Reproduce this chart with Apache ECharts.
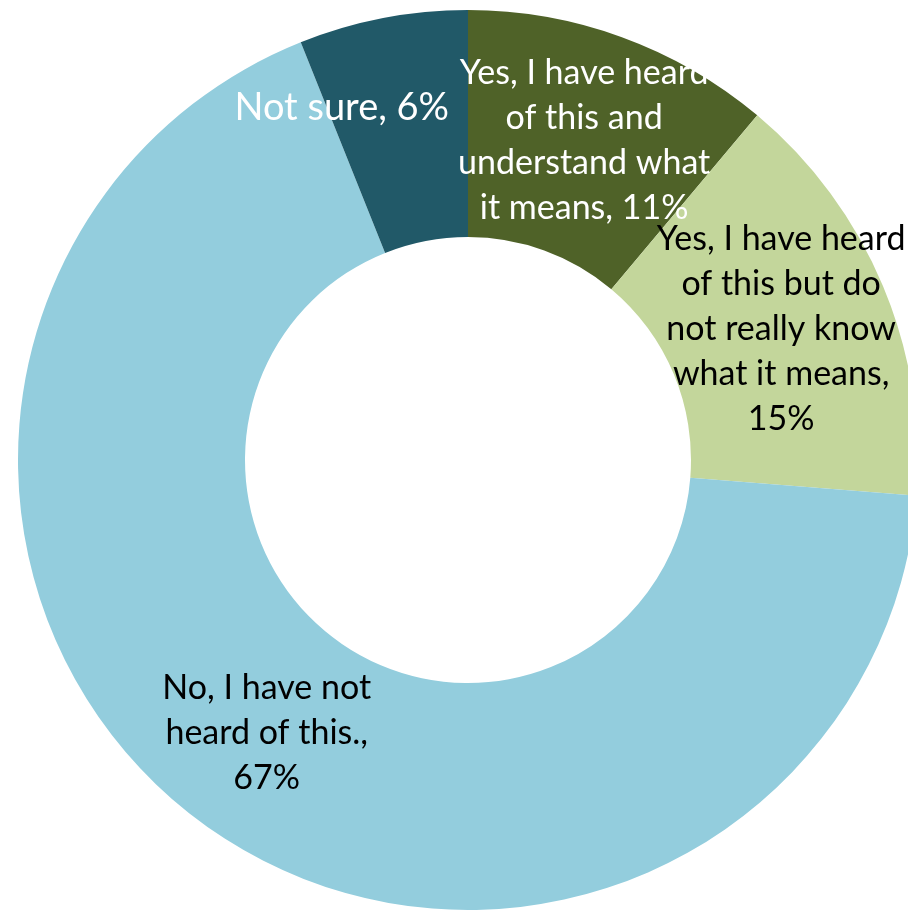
<!DOCTYPE html>
<html>
<head>
<meta charset="utf-8">
<script src="https://cdn.jsdelivr.net/npm/echarts@6/dist/echarts.min.js"></script>
<style>
html,body{margin:0;padding:0;background:#fff;}
#main{width:908px;height:912px;}
</style>
</head>
<body>
<div id="main"></div>
<script>
var categories = [
  "Yes, I have heard of this and understand what it means",
  "Yes, I have heard of this but do not really know what it means",
  "No, I have not heard of this.",
  "Not sure"
];
var values = [11, 15, 67, 6];
var labelLines = [
  "Yes, I have heard\nof this and\nunderstand what\nit means, 11%",
  "Yes, I have heard\nof this but do\nnot really know\nwhat it means,\n15%",
  "No, I have not\nheard of this.,\n67%",
  "Not sure, 6%"
];
var colors = ["#4F6228", "#C3D69B", "#93CDDD", "#215968"];
var labelColors = ["#ffffff", "#000000", "#000000", "#ffffff"];
var labelSizes = [34, 34, 34, 38];

var data = categories.map(function (c, i) {
  return {
    name: c,
    value: values[i],
    itemStyle: { color: colors[i] },
    label: { color: labelColors[i], fontSize: labelSizes[i] }
  };
});

var chart = echarts.init(document.getElementById('main'), null, { renderer: 'canvas' });
chart.setOption({
  animation: false,
  series: [{
    type: 'pie',
    center: [468, 460],
    radius: [223, 450],
    startAngle: 90,
    clockwise: true,
    avoidLabelOverlap: false,
    data: data,
    itemStyle: { borderWidth: 0 },
    label: {
      show: true,
      position: 'inside',
      fontFamily: 'Lato, "Open Sans", sans-serif',
      fontSize: 34,
      lineHeight: 45,
      align: 'center',
      formatter: function (p) { return labelLines[p.dataIndex]; }
    },
    labelLine: { show: false },
    labelLayout: function (p) {
      if (p.dataIndex === 3) return { dx: -62, dy: -19 };
      return {};
    }
  }]
});
</script>
</body>
</html>
